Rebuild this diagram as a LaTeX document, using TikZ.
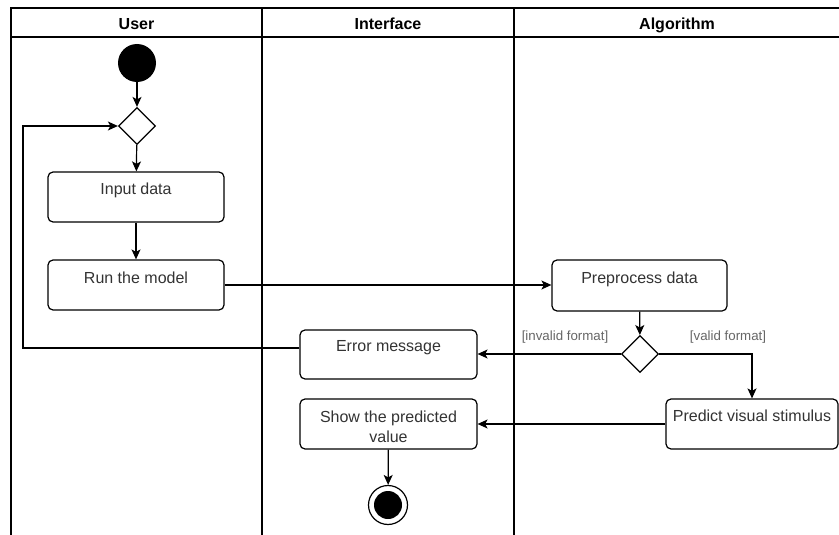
\documentclass[tikz,border=0pt]{standalone}
\usepackage{fontspec}
\setmainfont{Liberation Sans}
\usetikzlibrary{shapes.geometric,arrows.meta,calc}
\definecolor{boxtext}{HTML}{333333}
\definecolor{guardtext}{HTML}{666666}
\begin{document}
\begin{tikzpicture}[x=1pt,y=-1pt,
  lane/.style={line width=1.4pt},
  actbox/.style={draw, line width=1.2pt, rounded corners=5pt, inner sep=0pt, fill=white},
  acttext/.style={anchor=base, text=boxtext, font=\fontsize{16}{20}\selectfont, inner sep=0pt},
  head/.style={anchor=base, font=\fontsize{16}{20}\selectfont\bfseries, inner sep=0pt},
  guard/.style={anchor=base, text=guardtext, font=\fontsize{13.3}{16}\selectfont, inner sep=0pt},
  decision/.style={diamond, aspect=1, draw, line width=1.2pt, fill=white, minimum size=37pt, inner sep=0pt},
  flow/.style={line width=1.2pt, -{Stealth[length=10pt,width=9pt,inset=2.5pt]}}
]
\useasboundingbox (0,0) rectangle (839,535);

% swimlane frame
\draw[lane] (11,535) -- (11,8) -- (839,8);
\draw[lane] (11,37) -- (839,37);
\draw[lane] (262,8) -- (262,535);
\draw[lane] (514,8) -- (514,535);

\node[head] (hUser) at (136.5,30) {User};
\node[head] (hIface) at (388,30) {Interface};
\node[head] (hAlgo) at (677,30) {Algorithm};

% start and first decision
\node[circle, fill=black, minimum size=38pt, inner sep=0pt] (start) at (137,63) {};
\node[decision] (d1) at (137,126) {};

% activities
\node[actbox, minimum width=176pt, minimum height=50pt] (input) at (136,197) {};
\node[acttext] (tInput) at ($(input.center)+(0,-2.5)$) {Input data};

\node[actbox, minimum width=176pt, minimum height=50pt] (run) at (136,285) {};
\node[acttext] (tRun) at ($(run.center)+(0,-2)$) {Run the model};

\node[actbox, minimum width=175pt, minimum height=51pt] (pre) at (639.5,285.5) {};
\node[acttext] (tPre) at ($(pre.center)+(0,-2.2)$) {Preprocess data};

\node[decision] (d2) at (640,354) {};

\node[actbox, minimum width=177pt, minimum height=49pt] (err) at (388.5,354.5) {};
\node[acttext] (tErr) at ($(err.center)+(0,-2.8)$) {Error message};

\node[actbox, minimum width=177pt, minimum height=50pt] (show) at (388.5,424) {};
\node[acttext, anchor=north, align=center] (tShow) at (388.5,410.7) {Show the predicted\\value};

\node[actbox, minimum width=172pt, minimum height=50pt] (pred) at (752,424) {};
\node[acttext] (tPred) at ($(pred.center)+(0,-2.3)$) {Predict visual stimulus};

% final node
\node[circle, draw, line width=1.2pt, fill=white, minimum size=39pt, inner sep=0pt] (end) at (388,505) {};
\node[circle, fill=black, minimum size=28pt, inner sep=0pt] (endDot) at (end.center) {};

% guards
\node[guard] (gInv) at (565,340.7) {[invalid format]};
\node[guard] (gVal) at (728,340.7) {[valid format]};

% control flow
\draw[flow] (start) -- (d1);
\draw[flow] (d1) -- (input);
\draw[flow] (input) -- (run);
\draw[flow] (run.east) -- (run.east -| pre.west);
\draw[flow] (pre) -- (d2);
\draw[flow] (d2.west) -- (d2.west -| err.east);
\draw[flow] (d2.east) -| (pred.north);
\draw[flow] (pred.west) -- (pred.west -| show.east);
\draw[flow] (show) -- (end);

\coordinate (loopX) at (23,0);
\coordinate (errOut) at ([yshift=6.5pt]err.west);
\draw[flow] (errOut) -- (errOut -| loopX) |- (d1.west);
\end{tikzpicture}
\end{document}
